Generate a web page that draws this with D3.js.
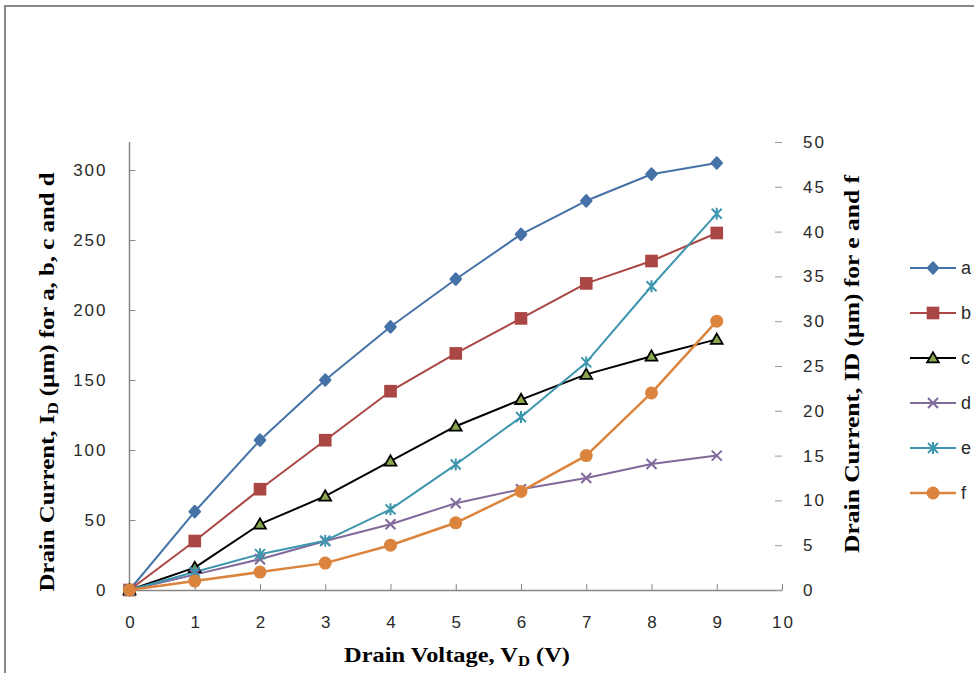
<!DOCTYPE html>
<html><head><meta charset="utf-8">
<script src="https://cdn.jsdelivr.net/npm/d3@7"></script>
<style>body{margin:0;background:#fff}svg{display:block}</style>
</head><body>
<svg id="c" width="974" height="673"></svg>
<script>
const voltages = [0,1,2,3,4,5,6,7,8,9];
const seriesA = [0,56,107,150,188,222,254,278,297,305];
const seriesB = [0,35,72,107,142,169,194,219,235,255];
const seriesC = [0,16,47,67,92,117,136,154,167,179];
const seriesD = [0,11,22,35,47,62,72,80,90,96];
const seriesE = [0,2,4,5.5,9,14,19.3,25.4,33.9,42];
const seriesF = [0,1,2,3,5,7.5,11,15,22,30];
const xTicks = [0,1,2,3,4,5,6,7,8,9,10];
const leftTicks = [0,50,100,150,200,250,300];
const rightTicks = [0,5,10,15,20,25,30,35,40,45,50];
const names = ["a","b","c","d","e","f"];

const svg = d3.select("#c");
// outer frame
svg.append("rect").attr("x",5).attr("y",6).attr("width",1000).attr("height",700)
  .attr("fill","none").attr("stroke","#878787").attr("stroke-width",2);

const x = d3.scaleLinear([0,10],[129.5,782]);
const yL = d3.scaleLinear([0,320],[590,142]);
const yR = d3.scaleLinear([0,50],[590,142]);

const axisColor = "#868686", textColor = "#2a2a2a";
const tickFont = "'Liberation Sans', Arial, sans-serif";

// x axis
const gx = svg.append("g").attr("transform","translate(0,590)")
  .call(d3.axisBottom(x).tickValues(xTicks).tickSizeInner(-6).tickSizeOuter(0).tickPadding(26).tickFormat(d3.format("d")));
// left axis
const gl = svg.append("g").attr("transform","translate(129.5,0)")
  .call(d3.axisLeft(yL).tickValues(leftTicks).tickSizeInner(-6).tickSizeOuter(0).tickPadding(22));
gl.select(".domain").attr("d","M0,142V590");
// right axis
const gr = svg.append("g").attr("transform","translate(782,0)")
  .call(d3.axisRight(yR).tickValues(rightTicks).tickSizeInner(-6).tickSizeOuter(0).tickPadding(21));
gr.select(".domain").remove();
[gx,gl,gr].forEach(g=>{
  g.selectAll(".domain").attr("stroke",axisColor).attr("stroke-width",1.5);
  g.selectAll(".tick line").attr("stroke",axisColor).attr("stroke-width",1);
  g.selectAll(".tick text").attr("fill",textColor).style("font-family",tickFont)
    .style("font-size","17px").style("letter-spacing","2px");
});
gx.selectAll(".tick text").attr("dx",1);
gr.selectAll(".tick line").attr("x1",-7).attr("x2",0).attr("stroke","#999");

const series = [
  {name:"a", values:seriesA, y:yL, color:"#4572A7", mark:"diamond", lw:2},
  {name:"b", values:seriesB, y:yL, color:"#AA4643", mark:"square", lw:2},
  {name:"c", values:seriesC, y:yL, color:"#000000", mark:"triangle", lw:2},
  {name:"d", values:seriesD, y:yL, color:"#80699B", mark:"x", lw:2},
  {name:"e", values:seriesE, y:yR, color:"#3D96AE", mark:"star", lw:2},
  {name:"f", values:seriesF, y:yR, color:"#DB843D", mark:"circle", lw:2.5}
];

function drawMarker(g, s, cx, cy){
  const t = `translate(${cx},${cy})`;
  if(s.mark==="diamond"){
    g.append("path").attr("transform",t).attr("d","M0,-5.5L5,0L0,5.5L-5,0Z")
      .attr("fill",s.color).attr("stroke",s.color).attr("stroke-width",2.5).attr("stroke-linejoin","round");
  } else if(s.mark==="square"){
    g.append("path").attr("transform",t).attr("d",d3.symbol(d3.symbolSquare,160)()).attr("fill",s.color);
  } else if(s.mark==="triangle"){
    g.append("path").attr("transform",t+" translate(0,1)").attr("d",d3.symbol(d3.symbolTriangle,60)())
      .attr("fill","#89A54E").attr("stroke","#000").attr("stroke-width",1.8);
  } else if(s.mark==="x"){
    g.append("path").attr("transform",t).attr("d","M-5,-5L5,5M-5,5L5,-5")
      .attr("stroke",s.color).attr("stroke-width",2).attr("fill","none");
  } else if(s.mark==="star"){
    g.append("path").attr("transform",t).attr("d","M-5,-5L5,5M-5,5L5,-5M0,-6V6")
      .attr("stroke",s.color).attr("stroke-width",2).attr("fill","none");
  } else {
    g.append("circle").attr("cx",cx).attr("cy",cy).attr("r",6.5).attr("fill",s.color);
  }
}

const plot = svg.append("g");
series.forEach(s=>{
  const line = d3.line().x((d,i)=>x(voltages[i])).y(d=>s.y(d));
  plot.append("path").datum(s.values).attr("d",line).attr("fill","none")
    .attr("stroke",s.color).attr("stroke-width",s.lw).attr("stroke-linejoin","round");
});
series.forEach(s=>{
  const g = plot.append("g");
  s.values.forEach((v,i)=>drawMarker(g,s,x(voltages[i]),s.y(v)));
});

// legend
const leg = svg.append("g");
series.forEach((s,i)=>{
  const yy = 268 + i*45;
  leg.append("line").attr("x1",910).attr("x2",956).attr("y1",yy).attr("y2",yy)
    .attr("stroke",s.color).attr("stroke-width",s.lw);
  drawMarker(leg,s,933,yy);
  leg.append("text").attr("x",961).attr("y",yy).attr("dy","0.35em").text(s.name)
    .attr("fill",textColor).style("font-family",tickFont).style("font-size","18px");
});

// axis titles
const titleFont = "'Liberation Serif','Times New Roman',serif";
function title(transform){
  return svg.append("text").attr("transform",transform).attr("text-anchor","middle")
    .style("font-family",titleFont).style("font-weight","bold").style("font-size","22px").attr("fill","#000");
}
const tx = title("translate(457,662) scale(1.11,1)");
tx.append("tspan").text("Drain Voltage, V");
tx.append("tspan").text("D").attr("dy",4).style("font-size","15px");
tx.append("tspan").text(" (V)").attr("dy",-4);

const tl = title("translate(54,382) rotate(-90) scale(1.13,1)");
tl.append("tspan").text("Drain  Current, I");
tl.append("tspan").text("D").attr("dy",4).style("font-size","15px");
tl.append("tspan").text(" (µm) for a, b, c and d").attr("dy",-4);

title("translate(859,364) rotate(-90) scale(1.16,1)").text("Drain Current, ID (µm) for e and f");
</script>
</body></html>
